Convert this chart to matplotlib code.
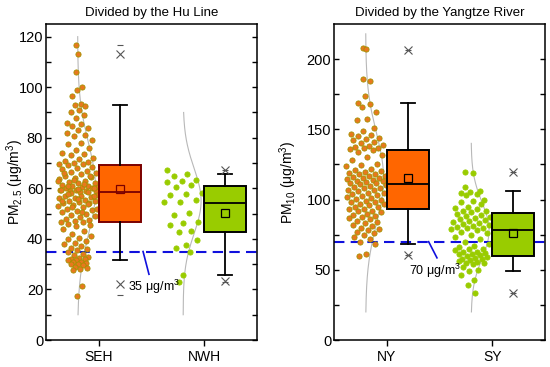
import matplotlib
matplotlib.use("Agg")
import matplotlib.pyplot as plt
import numpy as np

plt.rcParams['font.family'] = ['Liberation Sans', 'DejaVu Sans']
plt.rcParams['mathtext.fontset'] = 'custom'
plt.rcParams['mathtext.rm'] = 'Liberation Sans'
plt.rcParams['mathtext.it'] = 'Liberation Sans:italic'

# ---------------- data ----------------
hu_categories = ["SEH", "NWH"]
yz_categories = ["NY", "SY"]

seh_values = [116.7, 113, 106, 100, 99, 96.5, 93.5, 93, 92.5, 91, 90, 89, 88, 86, 85.5, 84.5,
              84, 83, 82, 81, 80.5, 79, 78, 77.5, 76, 75, 74, 73.5, 73, 72, 71.5, 71, 70.5, 70,
              69.8, 69.5, 69.2,
              68.5, 68, 67.5, 67, 66.5, 66, 65.5, 65, 64.5, 64, 63.5, 63, 62.5, 62, 62, 61.5, 61,
              61, 60.5, 60.5, 60, 60, 59.5, 59.5, 59, 59, 58.8, 58.6, 66.2, 64.8, 63.2, 62.8, 61.8,
              60.8, 60.2, 59.8, 59.2,
              58.4, 58, 57.5, 57, 57, 56.5, 56, 56, 55.5, 55, 55, 54.5, 54, 54, 53.5, 53, 52.5, 52,
              51.5, 51, 50.5, 50, 49.5, 49, 48.5, 48, 47.5, 47, 46.8, 46.6, 57.8, 56.8, 55.8, 54.8,
              53.8, 52.8, 51.8, 50.8,
              46, 45.5, 45, 44, 43, 42, 41, 40.5, 40, 39, 38.5, 38, 37, 36.5, 36, 35.5, 35, 34, 33.5,
              33, 32.5, 32, 32, 31.5, 31.5, 31, 31, 30.5, 30, 30, 29.5, 29, 28.5, 28, 27.5, 21.5, 17.5]

nwh_values = [67.1, 65.5, 64.7, 63.4, 62.8, 62.4, 61.2, 60.5, 58.2, 57.9, 57.5, 55.3, 54.5, 54.6,
              50.4, 49.3, 46.7, 46.3, 45.4, 43.2, 42.8, 39.7, 37.5, 36.4, 34.9, 25.7, 23.0]

ny_values = [208, 207, 186, 184.5, 174, 169, 168, 166, 162, 157.5, 156.5, 151, 149, 147, 146, 145,
             143.5, 143, 142.5, 141, 140, 139, 138, 137.5, 137, 136.5, 136,
             135, 134, 132, 130, 128, 125, 124.5, 124, 122, 121, 120, 119.5, 119, 118.5, 118, 117,
             116.5, 116, 115.5, 115, 114.5, 114, 113.5, 113, 112.5, 112, 111.5,
             111, 110.5, 110, 109, 108.5, 108, 107, 106.5, 106, 105, 104.5, 104, 103, 102.5, 102,
             101, 100.5, 100, 99, 98.5, 98, 97, 96.5, 96, 95, 94.5, 93.5,
             93, 92, 91.5, 91, 90, 89, 88, 87.5, 87, 86, 85, 84, 83, 82, 81, 80, 79, 78, 77, 76, 75,
             73, 72, 70, 68, 61, 60]

sy_values = [119.5, 119, 109, 106, 105.5, 105, 104, 103, 100, 99, 98, 97, 95, 94, 93, 92, 91.5, 91,
             90, 89, 88, 87.5, 87, 86, 85.5, 85, 84, 83, 82.5, 82, 81, 80.5, 80, 79.5, 79, 78.5,
             77, 76, 75, 73, 72, 70, 68, 67, 66, 65, 64.5, 64, 63, 62.5, 62, 61.5, 61, 60.5,
             59.5, 59, 58.5, 58, 57.5, 57, 56, 55.5, 55, 54.5, 54, 52, 50, 49, 46, 43, 39, 33.5]

# box statistics:
# [whisker low, Q1, median, Q3, whisker high, mean, p1, p99, min, max]
seh_box = [31.6, 46.7, 58.5, 69.1, 92.8, 59.8, 22.0, 113.2, 17.8, 116.7]
nwh_box = [25.7, 42.9, 54.3, 60.9, 65.5, 50.3, 23.3, 67.1, 23.0, 67.1]
ny_box = [68.6, 93.3, 111.2, 135.5, 168.6, 115.0, 60.7, 206.4, 60.7, 206.4]
sy_box = [49.3, 60.0, 78.0, 90.5, 105.9, 76.2, 33.3, 119.3, 33.3, 119.3]

# normal distribution curves: [mean, sd, y from, y to]
seh_curve = [59.8, 18, 10, 120]
nwh_curve = [55, 13, 10, 90]
ny_curve = [115, 32, 20, 218]
sy_curve = [78, 20, 20, 140]

hu_limit = 35
yz_limit = 70

# ---------------- drawing ----------------
fig = plt.figure(figsize=(5.5, 3.67), dpi=100)
ax1 = fig.add_axes([46/550, 27/367, 211/550, 316/367])
ax2 = fig.add_axes([334/550, 27/367, 211/550, 316/367])

ORANGE = '#FF6600'
GREEN = '#99CC00'
phi = 0.6180339887


def draw_group(ax, pos, values, box, curve, fill, box_edge, pt_face, pt_edge):
    mu, sd, c0, c1 = curve
    base = pos - 0.2
    amp = 0.17
    # distribution curve
    yy = np.linspace(c0, c1, 200)
    xx = base + amp * np.exp(-0.5 * ((yy - mu) / sd) ** 2)
    ax.plot(xx, yy, color='#B8B8B8', lw=0.8, zorder=1)
    # jittered points (deterministic spread, wider where density is higher)
    v = np.asarray(values, dtype=float)
    idx = np.arange(len(v))
    frac = (idx * phi) % 1.0
    dens = np.exp(-0.5 * ((v - mu) / sd) ** 2)
    hw = 0.19 * dens ** 0.6 + 0.01
    xs = base + (frac * 2 - 1) * hw
    ax.scatter(xs, v, s=14, c=pt_face, edgecolors=pt_edge, linewidths=0.6, zorder=3)
    # box
    wlo, q1, med, q3, whi, mean, p1, p99, vmin, vmax = box
    stats = [dict(whislo=wlo, q1=q1, med=med, q3=q3, whishi=whi, mean=mean, fliers=[])]
    ax.bxp(stats, positions=[pos + 0.2], widths=0.4, patch_artist=True, showmeans=True,
           meanprops=dict(marker='s', markerfacecolor='none', markeredgecolor=box_edge,
                          markersize=5.5, markeredgewidth=0.9),
           boxprops=dict(facecolor=fill, edgecolor=box_edge, linewidth=1.4),
           medianprops=dict(color=box_edge, linewidth=1.3),
           whiskerprops=dict(color='black', linewidth=1.3),
           capprops=dict(color='black', linewidth=1.3), capwidths=0.13,
           showfliers=False, zorder=4)
    ax.plot([pos + 0.2] * 2, [p1, p99], linestyle='none', marker='x', color='#555555',
            markersize=6, markeredgewidth=0.8, zorder=5)
    ax.plot([pos + 0.2] * 2, [vmin, vmax], linestyle='none', marker='_', color='#555555',
            markersize=5, markeredgewidth=0.8, zorder=5)


draw_group(ax1, 1, seh_values, seh_box, seh_curve, ORANGE, '#7A0000', '#E8781E', '#A39200')
draw_group(ax1, 2, nwh_values, nwh_box, nwh_curve, GREEN, 'black', GREEN, GREEN)
draw_group(ax2, 1, ny_values, ny_box, ny_curve, ORANGE, 'black', '#E8781E', '#A39200')
draw_group(ax2, 2, sy_values, sy_box, sy_curve, GREEN, 'black', GREEN, GREEN)

for ax, lim, cats, ylim, major, minor, title, ylab, lx in [
        (ax1, hu_limit, hu_categories, 125, 20, 10, 'Divided by the Hu Line',
         r'PM$_{2.5}$ (μg/m$^{3}$)', -0.097),
        (ax2, yz_limit, yz_categories, 225, 50, 25, 'Divided by the Yangtze River',
         r'PM$_{10}$ (μg/m$^{3}$)', -0.166)]:
    ax.axhline(lim, color='#1010DD', lw=1.5, ls=(0, (5, 3)), zorder=2)
    ax.set_xlim(0.5, 2.5)
    ax.set_ylim(0, ylim)
    ax.set_xticks([1, 2])
    ax.set_xticklabels(cats)
    ax.set_yticks(np.arange(0, ylim, major))
    ax.set_yticks(np.arange(0, ylim, minor), minor=True)
    ax.tick_params(axis='y', which='both', direction='in', right=True, left=True,
                   length=3.5, width=1.0, labelsize=10.5, pad=2)
    ax.tick_params(axis='x', direction='out', length=4, width=1.0, labelsize=10, pad=3)
    ax.set_title(title, fontsize=9.5, pad=6)
    ax.set_ylabel(ylab, fontsize=10)
    ax.yaxis.set_label_coords(lx, 0.5)
    for sp in ax.spines.values():
        sp.set_linewidth(1.1)

# threshold annotations
ax1.plot([1.42, 1.476], [35, 26.0], color='#1010DD', lw=1.2, zorder=2)
ax1.text(1.277, 21.0, r'35 μg/m$^{3}$', fontsize=9, va='center', ha='left')
ax2.plot([1.397, 1.476], [70, 58.5], color='#1010DD', lw=1.2, zorder=2)
ax2.text(1.207, 49.5, r'70 μg/m$^{3}$', fontsize=9, va='center', ha='left')

fig.savefig('out.png', dpi=100)
